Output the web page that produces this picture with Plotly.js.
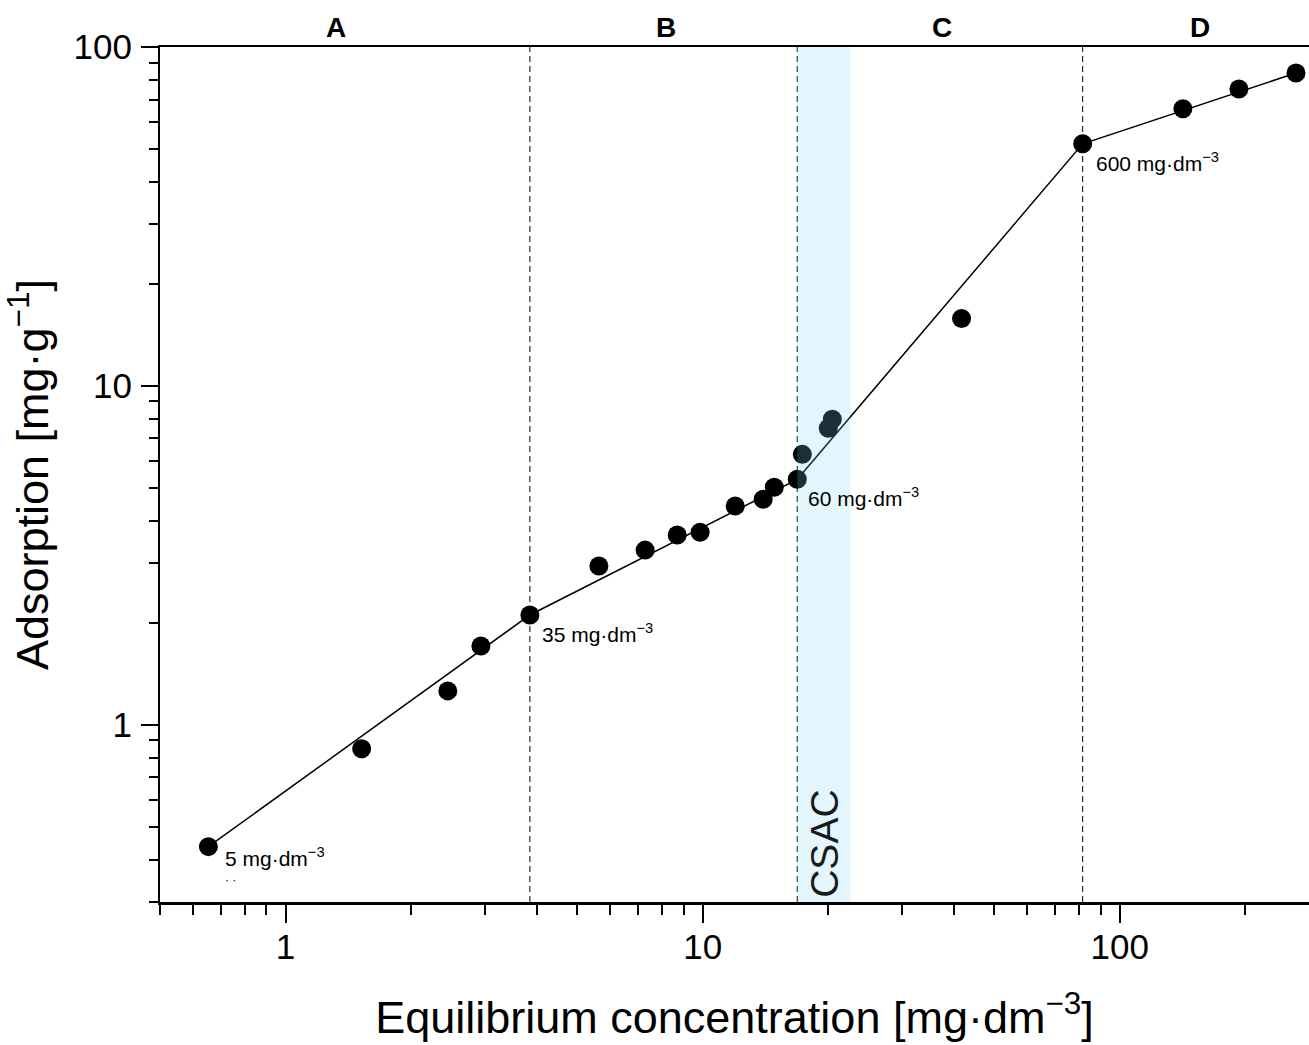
<!DOCTYPE html>
<html>
<head>
<meta charset="utf-8">
<script src="https://cdn.plot.ly/plotly-3.0.1.min.js"></script>
<style>html,body{margin:0;padding:0;background:#fff;}#chart{width:1309px;height:1045px;}</style>
</head>
<body>
<div id="chart"></div>
<script>
// Measured points (equilibrium concentration, adsorption)
const concX = [0.653, 1.522, 2.449, 2.94, 3.853, 5.64, 7.28, 8.69, 9.86, 11.97, 13.97, 14.85, 16.86, 17.34, 20.01, 20.46, 41.76, 81.5, 141.7, 193.1, 264.6];
const adsY  = [0.437, 0.850, 1.259, 1.709, 2.109, 2.94, 3.277, 3.63, 3.70, 4.42, 4.63, 5.02, 5.30, 6.28, 7.50, 7.97, 15.80, 51.8, 65.7, 75.2, 83.8];
// Piecewise line through breakpoints
const fitX = [0.653, 3.853, 16.86, 81.5, 264.6];
const fitY = [0.437, 2.109, 5.30, 51.8, 83.8];
// Region boundaries (dashed lines) and CSAC band
const boundX = [3.853, 16.86, 81.5];
const csacBand = [16.86, 22.6];
// Point labels (initial concentrations)
const labelText = ['5 mg·dm<sup>−3</sup>', '35 mg·dm<sup>−3</sup>', '60 mg·dm<sup>−3</sup>', '600 mg·dm<sup>−3</sup>'];
const labelX = [0.653, 3.853, 16.86, 81.5];
const labelY = [0.437, 2.109, 5.30, 51.8];
// Region names and their x positions (concentration)
const regionNames = ['A', 'B', 'C', 'D'];
const regionX = [1.318, 8.17, 37.4, 155.6];
// Axis ticks
const majorTicks = [1, 10, 100];
const majorText = ['1', '10', '100'];
const xMinor = [0.5, 0.6, 0.7, 0.8, 0.9, 2, 3, 4, 5, 6, 7, 8, 9, 20, 30, 40, 50, 60, 70, 80, 90, 200];
const yMinor = [0.3, 0.4, 0.5, 0.6, 0.7, 0.8, 0.9, 2, 3, 4, 5, 6, 7, 8, 9, 20, 30, 40, 50, 60, 70, 80, 90];

const yMin = 0.3, yMax = 100;
const FONT = '"Liberation Sans", Arial, sans-serif';

const traces = [];
boundX.forEach(v => traces.push({
  x: [v, v], y: [yMin, yMax], mode: 'lines', type: 'scatter',
  line: {color: '#000', width: 1, dash: '6px,4px'}, hoverinfo: 'skip', showlegend: false
}));
traces.push({
  x: fitX, y: fitY, mode: 'lines', type: 'scatter',
  line: {color: '#000', width: 1.5}, hoverinfo: 'skip', showlegend: false
});
traces.push({
  x: concX, y: adsY, mode: 'markers', type: 'scatter',
  marker: {color: '#000', size: 19}, showlegend: false
});
traces.push({
  x: [csacBand[0], csacBand[1], csacBand[1], csacBand[0], csacBand[0]],
  y: [yMin, yMin, yMax, yMax, yMin],
  mode: 'lines', type: 'scatter', fill: 'toself',
  fillcolor: 'rgba(129,212,250,0.22)', line: {width: 0}, hoverinfo: 'skip', showlegend: false
});

const annotations = [];
const shifts = [[15, -10], [10, -18], [9, -18], [11, -18]];
labelText.forEach((t, i) => annotations.push({
  x: Math.log10(labelX[i]), y: Math.log10(labelY[i]), xref: 'x', yref: 'y',
  text: t, showarrow: false, xanchor: 'left', yanchor: 'middle',
  xshift: shifts[i][0], yshift: shifts[i][1],
  font: {family: FONT, size: 21, color: '#000'}
}));
annotations.push({
  x: Math.log10(labelX[0]), y: Math.log10(labelY[0]), xref: 'x', yref: 'y',
  text: '· ·', showarrow: false, xanchor: 'left', yanchor: 'middle',
  xshift: 15, yshift: -33, font: {family: FONT, size: 12, color: '#000'}
});
regionNames.forEach((r, i) => annotations.push({
  x: Math.log10(regionX[i]), y: 1, xref: 'x', yref: 'paper', yanchor: 'bottom', yshift: 2,
  text: '<b>' + r + '</b>', showarrow: false,
  font: {family: FONT, size: 28, color: '#000'}
}));
annotations.push({
  x: (Math.log10(csacBand[0]) + Math.log10(csacBand[1])) / 2, y: 0.0, xref: 'x', yref: 'paper',
  yanchor: 'bottom', xanchor: 'center', yshift: 2,
  text: 'CSAC', textangle: -90, showarrow: false,
  font: {family: FONT, size: 39, color: '#1a1a1a'}
});

const layout = {
  width: 1309, height: 1045,
  margin: {l: 160, r: 0, t: 47, b: 143},
  paper_bgcolor: '#fff', plot_bgcolor: '#fff',
  font: {family: FONT, color: '#000'},
  showlegend: false,
  xaxis: {
    type: 'log', range: [Math.log10(0.5), 2.4538],
    showgrid: false, zeroline: false,
    showline: true, linecolor: '#000', linewidth: 2.5, mirror: true,
    ticks: 'outside', ticklen: 18, tickwidth: 2, tickcolor: '#000',
    tickmode: 'array', tickvals: majorTicks, ticktext: majorText,
    tickfont: {family: FONT, size: 35, color: '#000'},
    ticklabelstandoff: -6,
    minor: {tickmode: 'array', tickvals: xMinor, ticks: 'outside', ticklen: 10, tickwidth: 2, tickcolor: '#000', showgrid: false},
    title: {text: 'Equilibrium concentration [mg·dm<sup>−3</sup>]', font: {family: FONT, size: 45, color: '#000'}, standoff: 37}
  },
  yaxis: {
    type: 'log', range: [Math.log10(yMin), Math.log10(yMax)],
    showgrid: false, zeroline: false,
    showline: true, linecolor: '#000', linewidth: 2, mirror: false,
    ticks: 'outside', ticklen: 17, tickwidth: 2, tickcolor: '#000',
    tickmode: 'array', tickvals: majorTicks, ticktext: majorText,
    tickfont: {family: FONT, size: 35, color: '#000'},
    ticklabelstandoff: 2,
    minor: {tickmode: 'array', tickvals: yMinor, ticks: 'outside', ticklen: 9, tickwidth: 2, tickcolor: '#000', showgrid: false},
    title: {text: 'Adsorption [mg·g<sup>−1</sup>]', font: {family: FONT, size: 45, color: '#000'}, standoff: 22}
  },
  annotations: annotations
};

Plotly.newPlot('chart', traces, layout, {displayModeBar: false, staticPlot: true});
</script>
</body>
</html>
